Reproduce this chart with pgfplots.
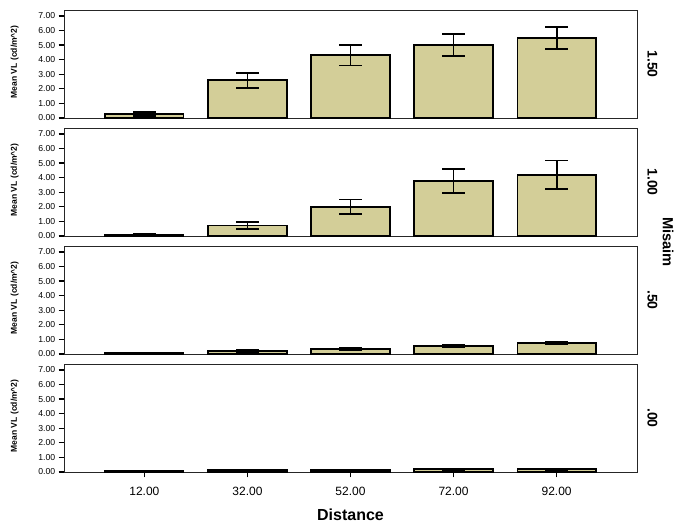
\documentclass[border=0pt]{standalone}
\usepackage{pgfplots}
\pgfplotsset{compat=1.18}
\usepackage{fontspec}
\setmainfont{Liberation Sans}
\definecolor{barfill}{RGB}{211,206,152}
\pgfplotsset{
  panel/.style={
    scale only axis, width=429.75pt, height=81pt,
    xmin=-0.78, xmax=4.78, ymin=0, ymax=7.4,
    ytick={0,1,2,3,4,5,6,7},
    ytick pos=left, tick align=outside, major tick length=4pt,
    yticklabel style={/pgf/number format/fixed, /pgf/number format/fixed zerofill, /pgf/number format/precision=2, font=\fontsize{6.5}{7}\selectfont, xshift=1pt},
    /pgf/number format/assume math mode=true,
    xtick=\empty,
    axis line style={black!85, line width=0.6pt},
    tick style={black, line width=1pt},
    ybar, bar width=0.76,
    clip=false,
  },
  bars/.style={
    fill=barfill, draw=black, line width=1.4pt,
    error bars/.cd, y dir=both, y explicit,
    error bar style={line width=1.4pt, black},
    error mark options={rotate=90, mark size=8.5pt, line width=1.4pt, draw=black},
  },
}
\newcommand{\panellabels}[1]{%
  \node[rotate=-90, font=\bfseries\fontsize{10.5}{12}\selectfont] at ([xshift=11.5pt]rel axis cs:1,0.5) {#1};
  \node[rotate=90, font=\bfseries\fontsize{6.4}{7}\selectfont] at ([xshift=-37pt]rel axis cs:0,0.52) {Mean VL (cd/m\^{}2)};
}
\begin{document}
\begin{tikzpicture}
\useasboundingbox (0,0) rectangle (506.25pt,-393.75pt);
% Panel 1.50
\begin{axis}[panel, at={(48pt,-7.5pt)}, anchor=north west]
\addplot[bars] coordinates {(0,0.27) +- (0,0.12) (1,2.58) +- (0,0.52) (2,4.30) +- (0,0.70) (3,5.02) +- (0,0.76) (4,5.48) +- (0,0.73)};
\panellabels{1.50}
\end{axis}
% Panel 1.00
\begin{axis}[panel, at={(48pt,-96pt)}, anchor=north west]
\addplot[bars] coordinates {(0,0.08) +- (0,0.05) (1,0.72) +- (0,0.23) (2,2.00) +- (0,0.50) (3,3.75) +- (0,0.83) (4,4.20) +- (0,0.97)};
\panellabels{1.00}
\end{axis}
% Panel .50
\begin{axis}[panel, at={(48pt,-184.5pt)}, anchor=north west]
\addplot[bars] coordinates {(0,0.05) +- (0,0.03) (1,0.20) +- (0,0.06) (2,0.35) +- (0,0.06) (3,0.55) +- (0,0.08) (4,0.75) +- (0,0.10)};
\panellabels{.50}
\end{axis}
% Panel .00
\begin{axis}[panel, at={(48pt,-273pt)}, anchor=north west,
  xtick={0,1,2,3,4}, xticklabels={12.00,32.00,52.00,72.00,92.00},
  xtick pos=bottom, xticklabel style={font=\fontsize{9}{10}\selectfont, yshift=-4pt},
  xlabel={Distance}, xlabel style={font=\bfseries\fontsize{12}{14}\selectfont, yshift=-3pt}]
\addplot[bars] coordinates {(0,0.06) +- (0,0.03) (1,0.13) +- (0,0.04) (2,0.12) +- (0,0.02) (3,0.20) +- (0,0.04) (4,0.20) +- (0,0.04)};
\panellabels{.00}
\end{axis}
\node[rotate=-90, font=\bfseries\fontsize{11}{13}\selectfont] at (501pt,-181.5pt) {Misaim};
\end{tikzpicture}
\end{document}
